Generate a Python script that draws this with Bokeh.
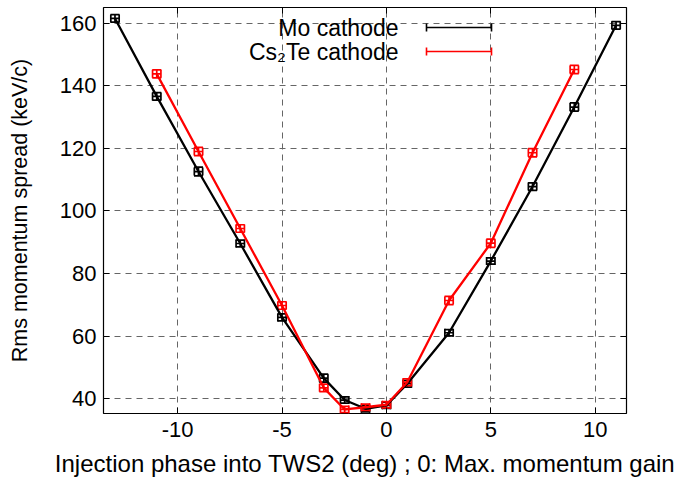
from bokeh.plotting import figure
from bokeh.models import (ColumnDataSource, Whisker, TeeHead, Label, Arrow,
                          LinearAxis, FixedTicker, Range1d)
from bokeh.embed import file_html
from bokeh.resources import INLINE

# ---- data ----
mo_phase = [-13, -11, -9, -7, -5, -3, -2, -1, 0, 1, 3, 5, 7, 9, 11]
mo_spread = [161.5, 136.6, 112.6, 89.6, 66.0, 46.6, 39.6, 36.8, 37.9, 44.8, 61.1, 84.0, 107.8, 133.2, 159.3]
mo_phase_err = [0.2, 0.2, 0.2, 0.2, 0.2, 0.2, 0.2, 0.2, 0.2, 0.2, 0.2, 0.2, 0.2, 0.2, 0.2]
mo_spread_err = [1.2, 1.2, 1.4, 1.1, 1.1, 1.3, 1.0, 1.0, 1.0, 1.1, 1.0, 1.0, 1.2, 1.3, 1.2]

cs_phase = [-11, -9, -7, -5, -3, -2, -1, 0, 1, 3, 5, 7, 9]
cs_spread = [143.8, 119.0, 94.4, 69.8, 43.5, 36.6, 37.3, 38.1, 45.3, 71.4, 89.7, 118.6, 145.2]
cs_phase_err = [0.2, 0.2, 0.2, 0.2, 0.2, 0.2, 0.2, 0.2, 0.2, 0.2, 0.2, 0.2, 0.2]
cs_spread_err = [1.3, 1.3, 1.2, 1.2, 1.2, 1.0, 1.0, 1.0, 1.1, 1.3, 1.3, 1.3, 1.3]

x_ticks = [-10, -5, 0, 5, 10]
x_tick_labels = ["-10", "-5", "0", "5", "10"]
y_ticks = [40, 60, 80, 100, 120, 140, 160]
y_tick_labels = ["40", "60", "80", "100", "120", "140", "160"]

series_names = ["Mo cathode", "Cs\u2082Te cathode"]
x_label = "Injection phase into TWS2 (deg) ; 0: Max. momentum gain"
y_label = "Rms momentum spread (keV/c)"

FONT = "Liberation Sans"

p = figure(width=680, height=483,
           x_range=Range1d(-13.55, 11.5), y_range=Range1d(35.3, 165.0),
           output_backend="svg", toolbar_location=None,
           min_border_left=103, min_border_right=54,
           min_border_top=7, min_border_bottom=70)

p.background_fill_color = "white"
p.border_fill_color = "white"
p.outline_line_color = "black"
p.outline_line_width = 1.2
p.outline_line_alpha = 1.0

xt = FixedTicker(ticks=x_ticks, minor_ticks=[])
yt = FixedTicker(ticks=y_ticks, minor_ticks=[])

xa = p.xaxis[0]
ya = p.yaxis[0]
xa.ticker = xt
ya.ticker = yt
xa.major_label_overrides = {t: s for t, s in zip(x_ticks, x_tick_labels)}
ya.major_label_overrides = {t: s for t, s in zip(y_ticks, y_tick_labels)}
for ax in (xa, ya):
    ax.axis_line_color = None
    ax.major_tick_in = 6
    ax.major_tick_out = 0
    ax.major_tick_line_color = "black"
    ax.minor_tick_line_color = None
    ax.major_label_text_font = FONT
    ax.major_label_text_font_size = "22px"
    ax.major_label_text_color = "black"
    ax.axis_label_text_font = FONT
    ax.axis_label_text_font_style = "normal"
    ax.axis_label_text_color = "black"
xa.axis_label = x_label
ya.axis_label = y_label
xa.axis_label_text_font_size = "24px"
ya.axis_label_text_font_size = "21.5px"
xa.major_label_standoff = 8
xa.axis_label_standoff = 10
ya.major_label_standoff = 7
ya.axis_label_standoff = 25

# mirror ticks on top and right (no labels)
for loc, tk in (("right", yt), ("above", xt)):
    ax = LinearAxis(ticker=tk)
    ax.axis_line_color = None
    ax.major_tick_in = 6
    ax.major_tick_out = 0
    ax.major_tick_line_color = "black"
    ax.minor_tick_line_color = None
    ax.major_label_text_font_size = "0px"
    ax.major_label_text_color = None
    ax.major_label_standoff = 0
    p.add_layout(ax, loc)

p.xgrid.ticker = xt
p.ygrid.ticker = yt
for g in (p.xgrid[0], p.ygrid[0]):
    g.grid_line_color = "#666666"
    g.grid_line_width = 1
    g.grid_line_dash = "6 5"

def add_series(xs, ys, xe, ye, color):
    src = ColumnDataSource(dict(
        x=xs, y=ys,
        ylo=[a - b for a, b in zip(ys, ye)], yhi=[a + b for a, b in zip(ys, ye)],
        xlo=[a - b for a, b in zip(xs, xe)], xhi=[a + b for a, b in zip(xs, xe)],
    ))
    p.line("x", "y", source=src, line_color=color, line_width=2.3)
    wy = Whisker(base="x", lower="ylo", upper="yhi", source=src, dimension="height",
                 line_color=color, line_width=1.7,
                 upper_head=TeeHead(size=9, line_color=color, line_width=1.7),
                 lower_head=TeeHead(size=9, line_color=color, line_width=1.7))
    wx = Whisker(base="y", lower="xlo", upper="xhi", source=src, dimension="width",
                 line_color=color, line_width=1.7,
                 upper_head=TeeHead(size=8, line_color=color, line_width=1.7),
                 lower_head=TeeHead(size=8, line_color=color, line_width=1.7))
    p.add_layout(wy)
    p.add_layout(wx)

colors = ["black", "#ff0000"]
add_series(mo_phase, mo_spread, mo_phase_err, mo_spread_err, colors[0])
add_series(cs_phase, cs_spread, cs_phase_err, cs_spread_err, colors[1])

# gnuplot-style key (text right-aligned, sample to the right)
key_rows_y = [386, 362]
for name, col, ky in zip(series_names, colors, key_rows_y):
    p.add_layout(Label(x=295, y=ky, x_units="screen", y_units="screen", text=name,
                       text_align="right", text_baseline="middle",
                       text_font=FONT, text_font_size="23px", text_color="black"))
    p.add_layout(Arrow(x_start=323, y_start=ky, x_end=388, y_end=ky,
                       start_units="screen", end_units="screen",
                       line_color=col, line_width=1.6,
                       start=TeeHead(size=8, line_color=col, line_width=1.6),
                       end=TeeHead(size=8, line_color=col, line_width=1.6)))

open("out.html", "w").write(file_html(p, INLINE))
